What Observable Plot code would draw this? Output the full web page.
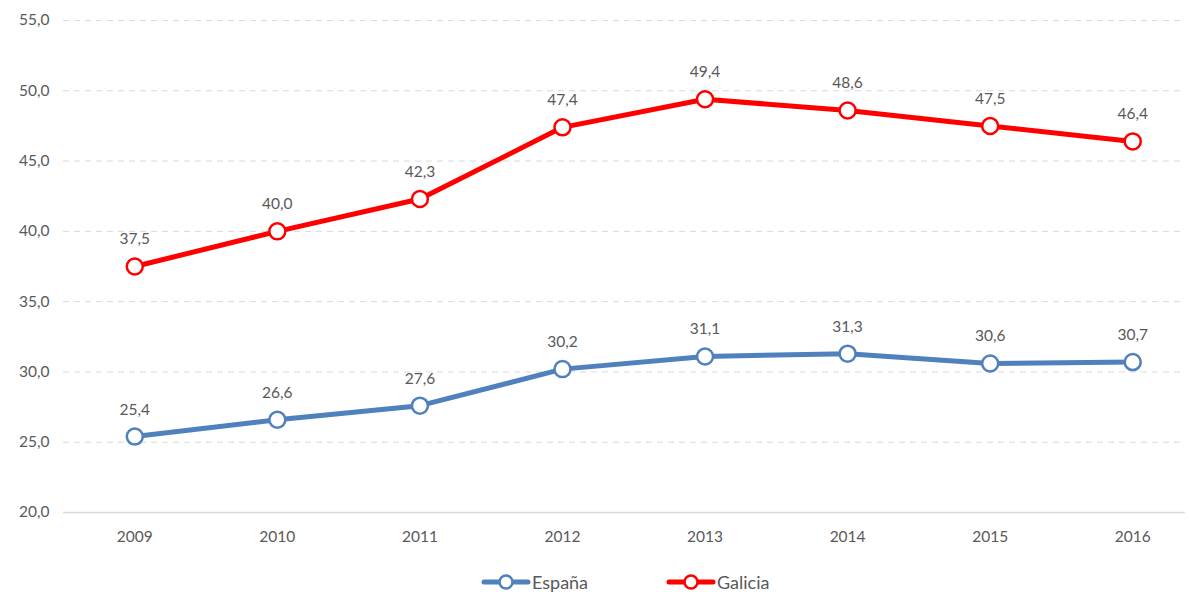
<!DOCTYPE html>
<html>
<head>
<meta charset="utf-8">
<script src="https://cdn.jsdelivr.net/npm/d3@7"></script>
<script src="https://cdn.jsdelivr.net/npm/@observablehq/plot@0.6"></script>
<style>
  body { margin: 0; background: #fff; font-family: Lato, "Open Sans", sans-serif; }
  #legend { position: relative; height: 47px; font-size: 18px; color: #595959; }
  .item { position: absolute; top: 26px; display: flex; align-items: center; gap: 1px; height: 22px; }
</style>
</head>
<body>
<div id="chart"></div>
<div id="legend"></div>
<script>
const years = [2009, 2010, 2011, 2012, 2013, 2014, 2015, 2016];
const espana = [25.4, 26.6, 27.6, 30.2, 31.1, 31.3, 30.6, 30.7];
const galicia = [37.5, 40.0, 42.3, 47.4, 49.4, 48.6, 47.5, 46.4];
const yTicks = [20, 25, 30, 35, 40, 45, 50, 55];
const seriesNames = ["España", "Galicia"];
const seriesColors = ["#4f81bd", "#ff0000"];

const data = [];
years.forEach((y, i) => {
  data.push({year: y, value: espana[i], serie: seriesNames[0]});
  data.push({year: y, value: galicia[i], serie: seriesNames[1]});
});
const fmt = v => v.toFixed(1).replace(".", ",");

const chart = Plot.plot({
  width: 1189,
  height: 545,
  marginLeft: 63,
  marginRight: 4,
  marginTop: 20,
  marginBottom: 33,
  style: {fontFamily: "Lato, 'Open Sans', sans-serif", fontSize: "15px", color: "#595959", background: "#fff"},
  x: {type: "linear", domain: [2008.5, 2016.37], axis: null},
  y: {domain: [20, 55], axis: null},
  color: {domain: seriesNames, range: seriesColors},
  marks: [
    Plot.ruleY(yTicks.filter(t => t > 20), {y: d => d, stroke: "#d9d9d9", strokeWidth: 1, strokeDasharray: "6,5"}),
    Plot.ruleY([20], {stroke: "#d9d9d9", strokeWidth: 1.5}),
    Plot.text(yTicks, {x: 2008.5, y: d => d, text: d => fmt(d), dx: -14, textAnchor: "end", fill: "#595959", fontSize: 15.5}),
    Plot.text(years, {x: d => d, y: 20, text: d => String(d), dy: 25, fill: "#595959", fontSize: 15.5}),
    Plot.line(data, {x: "year", y: "value", z: "serie", stroke: "serie", strokeWidth: 5, strokeLinejoin: "round"}),
    Plot.dot(data, {x: "year", y: "value", stroke: "serie", fill: "white", r: 8, strokeWidth: 2.5}),
    Plot.text(data, {x: "year", y: "value", text: d => fmt(d.value), dy: -27, fill: "#595959", fontSize: 15.5})
  ]
});
document.getElementById("chart").appendChild(chart);

const legend = document.getElementById("legend");
const legendLeft = [481, 666];
seriesNames.forEach((n, i) => {
  const c = seriesColors[i];
  const item = document.createElement("div");
  item.className = "item";
  item.style.left = legendLeft[i] + "px";
  item.innerHTML = `<svg width="50" height="20"><line x1="3" y1="10" x2="47" y2="10" stroke="${c}" stroke-width="5" stroke-linecap="round"/><circle cx="25" cy="10" r="6.5" fill="white" stroke="${c}" stroke-width="2.5"/></svg><span>${n}</span>`;
  legend.appendChild(item);
});
</script>
</body>
</html>
